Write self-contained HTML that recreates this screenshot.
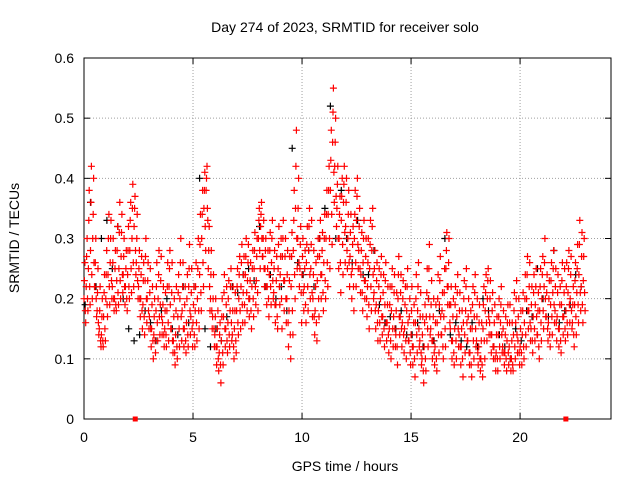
<!DOCTYPE html>
<html><head><meta charset="utf-8"><style>
body{margin:0;background:#fff;}
svg{display:block;font-family:"Liberation Sans",sans-serif;}
</style></head><body>
<svg id="chart" width="640" height="480" viewBox="0 0 640 480">
<rect width="640" height="480" fill="#fff"/>
<text x="345" y="32" text-anchor="middle" font-size="14">Day 274 of 2023, SRMTID for receiver solo</text>
<text transform="translate(19,238) rotate(-90)" text-anchor="middle" font-size="14">SRMTID / TECUs</text>
<text x="345" y="471" text-anchor="middle" font-size="14">GPS time / hours</text>
<g id="grid"></g>
<g id="axes"></g>
<g id="marks"></g>
</svg>
<script>
const xTicks=[0,5,10,15,20];
const yTicks=[0,0.1,0.2,0.3,0.4,0.5,0.6];
const yTickLabels=["0","0.1","0.2","0.3","0.4","0.5","0.6"];
const redStep=0.1;
const redA=[20,22,25,28,30,22,18,15,14,17,20,24,26,22,20,23,25,27,24,22,24,28,30,32,26,22,20,19,23,20,17,15,14,18,20,19,16,15,18,22,15,13,14,17,20,18,15,16,22,17,16,18,20,24,30,35,38,25,20,17,14,12,11,13,17,15,16,18,14,15,18,20,22,21,24,23,20,22,25,23,30,32,27,25,22,24,26,21,19,25,24,27,23,20,18,22,28,35,30,25,24,22,26,28,25,20,18,23,27,24,26,30,34,38,46,42,35,30,33,36,32,30,27,25,30,33,28,24,26,23,22,25,28,21,19,18,20,17,19,16,15,18,17,14,20,17,16,15,18,13,14,12,16,18,13,10,12,17,20,15,13,12,16,19,14,17,25,22,15,13,15,17,14,12,16,18,13,11,15,17,13,12,10,15,18,20,16,14,12,11,14,16,12,11,13,12,10,14,16,13,12,14,16,20,18,15,17,19,14,18,20,22,17,16,19,21,18,17,15,19,17,18,21,20,16,19,21,24,22,23];
const redB=[26,30,38,42,40,30,25,22,20,24,28,34,33,30,28,32,36,34,30,28,32,36,39,37,34,28,27,26,30,26,25,22,20,26,28,27,22,21,26,28,26,20,22,24,30,26,22,24,29,25,22,26,30,34,38,41,42,32,28,24,20,18,16,20,24,22,23,25,22,21,25,27,29,27,30,29,26,28,31,30,35,36,33,30,28,31,33,28,27,32,30,33,30,28,27,31,38,48,40,32,30,28,32,35,33,28,26,30,33,31,34,38,42,48,55,50,42,37,40,42,40,38,34,32,38,40,35,31,33,30,30,33,35,28,26,25,27,24,26,22,22,25,24,21,27,24,23,22,25,20,22,19,24,26,21,17,19,25,29,23,20,19,24,27,21,25,31,30,22,20,22,24,21,18,23,25,20,18,22,24,20,19,16,22,24,25,23,21,19,17,20,22,18,17,19,19,16,21,23,20,18,21,24,27,26,22,24,25,21,25,27,30,24,23,26,28,25,24,22,26,25,26,28,27,22,26,29,33,31,30];
const redC=[16,18,19,20,22,17,14,12,12,13,17,19,20,18,18,19,20,21,19,18,20,21,22,24,20,17,15,14,16,15,12,10,11,13,14,14,12,12,13,15,11,9,10,12,13,12,11,12,14,12,12,13,15,18,22,28,33,18,15,12,9,8,6,9,12,11,12,13,10,11,14,15,16,16,18,17,15,17,19,18,25,27,22,19,17,19,20,16,15,19,15,18,16,12,10,14,20,25,22,16,18,16,18,20,17,14,13,17,20,18,20,22,25,29,36,32,25,21,24,26,25,22,20,18,22,25,21,18,20,17,15,18,20,15,13,13,14,12,13,11,10,12,12,9,14,12,11,10,13,9,9,7,11,12,9,6,8,12,14,10,9,8,11,14,10,12,19,16,10,9,10,12,9,7,11,13,9,7,10,12,9,8,7,10,13,14,11,10,8,8,10,11,9,8,9,8,8,10,11,9,9,10,12,15,13,11,13,14,10,13,15,17,13,12,14,16,13,12,11,14,13,14,16,15,12,14,16,18,16,18];
const redD=[23,27,33,36,34,26,21,18,17,21,24,30,30,26,25,28,31,31,27,25,28,33,35,35,30,25,24,23,27,23,21,19,17,22,24,23,19,18,22,25,21,17,18,21,26,22,19,20,25,21,19,22,25,29,34,38,40,28,24,20,17,15,14,17,21,19,20,22,18,18,22,24,26,24,27,26,23,25,28,27,33,34,30,28,25,28,30,25,23,29,27,30,27,24,23,27,33,42,35,29,27,25,29,32,29,24,22,27,30,28,30,34,38,43,51,46,39,34,37,39,36,34,31,29,34,37,32,28,30,27,26,29,32,25,23,22,24,21,23,19,19,22,21,18,24,21,20,19,22,17,18,16,20,22,17,14,16,21,25,19,17,16,20,23,18,21,28,26,19,17,19,21,18,15,20,22,17,15,19,21,17,16,13,19,21,23,20,18,16,14,17,19,15,14,16,16,13,18,20,17,15,18,20,24,22,19,21,22,18,22,24,26,21,20,23,25,22,21,19,23,21,22,25,24,19,23,25,29,27,27];
const redE=[18,20,22,24,26,20,16,13,13,15,19,22,23,20,19,21,23,24,22,20,22,25,26,28,23,20,18,17,20,18,15,13,13,16,17,17,14,14,16,19,13,11,12,15,17,15,13,14,18,15,14,16,18,21,26,32,35,22,18,15,12,10,9,11,15,13,14,16,12,13,16,18,19,19,21,20,18,20,22,21,28,30,25,22,20,22,23,19,17,22,20,23,20,16,14,18,24,30,26,21,21,19,22,24,21,17,16,20,24,21,23,26,30,34,41,37,30,26,29,31,28,26,24,22,26,29,25,21,23,20,19,22,24,18,16,16,17,15,16,14,13,15,15,12,17,15,14,13,16,11,12,10,14,15,11,8,10,15,17,13,11,10,14,17,12,15,22,19,13,11,13,15,12,10,14,16,11,9,13,15,11,10,9,13,16,17,14,12,10,10,12,14,11,10,11,10,9,12,14,11,11,12,14,18,16,13,15,17,12,16,18,20,15,14,17,19,16,15,13,17,15,16,19,18,14,17,19,21,19,21];
const blackStep=0.25;
const black=[19,36,22,30,33,25,32,20,15,13,14,18,16,13,18,20,15,14,22,16,22,40,15,12,15,13,17,22,21,24,25,23,32,22,24,20,22,18,45,26,24,28,22,30,35,52,30,38,30,26,33,24,24,28,19,16,17,15,18,14,14,16,12,20,13,18,30,14,16,13,12,16,12,20,18,12,14,12,10,15,13,18,17,25,20,17,28,16,18,19,24,22];
const gapTimes=[2.35,22.1];

const X0=84,X1=611,Y0=419,Y1=58,XMAX=24.17,YMAX=0.6;
const xs=t=>X0+(t/XMAX)*(X1-X0);
const ys=v=>Y0-(v/YMAX)*(Y0-Y1);
const NS="http://www.w3.org/2000/svg";
function mk(tag,attrs,parent){const e=document.createElementNS(NS,tag);for(const k in attrs)e.setAttribute(k,attrs[k]);parent.appendChild(e);return e;}
const grid=document.getElementById('grid'),axes=document.getElementById('axes'),marks=document.getElementById('marks');
yTicks.forEach((v,i)=>{const y=ys(v);
 if(i>0&&i<yTicks.length-1){const g=mk('line',{x1:X0,x2:X1,y1:y,y2:y,stroke:'#a0a0a0','stroke-dasharray':'1,2'},grid);
 
 }
 mk('line',{x1:X0,x2:X0+6,y1:y,y2:y,stroke:'#000'},axes);
 mk('line',{x1:X1,x2:X1-6,y1:y,y2:y,stroke:'#000'},axes);
 const t=mk('text',{x:X0-10,y:y+5,'text-anchor':'end','font-size':'14'},axes);t.textContent=yTickLabels[i];
 
 });
xTicks.forEach(v=>{const x=xs(v);
 if(v>0){const g=mk('line',{x1:x,x2:x,y1:Y0,y2:Y1,stroke:'#a0a0a0','stroke-dasharray':'1,2'},grid);
 
 }
 mk('line',{x1:x,x2:x,y1:Y0,y2:Y0-6,stroke:'#000'},axes);
 mk('line',{x1:x,x2:x,y1:Y1,y2:Y1+6,stroke:'#000'},axes);
 const t=mk('text',{x:x,y:Y0+23,'text-anchor':'middle','font-size':'14'},axes);t.textContent=String(v);
 
 });
const fr=mk('rect',{x:X0,y:Y1,width:X1-X0,height:Y0-Y1,fill:'none',stroke:'#000'},axes);


function plus(t,v,col,name){const x=xs(t),y=ys(v);
 const p=mk('path',{d:`M${(x-3.5).toFixed(1)} ${y.toFixed(1)}h7M${x.toFixed(1)} ${(y-3.5).toFixed(1)}v7`,stroke:col,'stroke-width':1.2,fill:'none'},marks);
 
 }
black.forEach((v,i)=>plus(0.05+i*blackStep,v/100,'#000','black-point'));
redA.forEach((v,i)=>plus(i*redStep,v/100,'#f00','red-point'));
redD.forEach((v,i)=>plus(i*redStep+0.02,v/100,'#f00','red-point'));
redB.forEach((v,i)=>plus(i*redStep+0.04,v/100,'#f00','red-point'));
redE.forEach((v,i)=>plus(i*redStep+0.06,v/100,'#f00','red-point'));
redC.forEach((v,i)=>plus(i*redStep+0.08,v/100,'#f00','red-point'));
gapTimes.forEach(t=>{const r=mk('rect',{x:xs(t)-2.5,y:Y0-2.5,width:5,height:5,fill:'#f00'},marks);
 
 });
</script>
</body></html>
